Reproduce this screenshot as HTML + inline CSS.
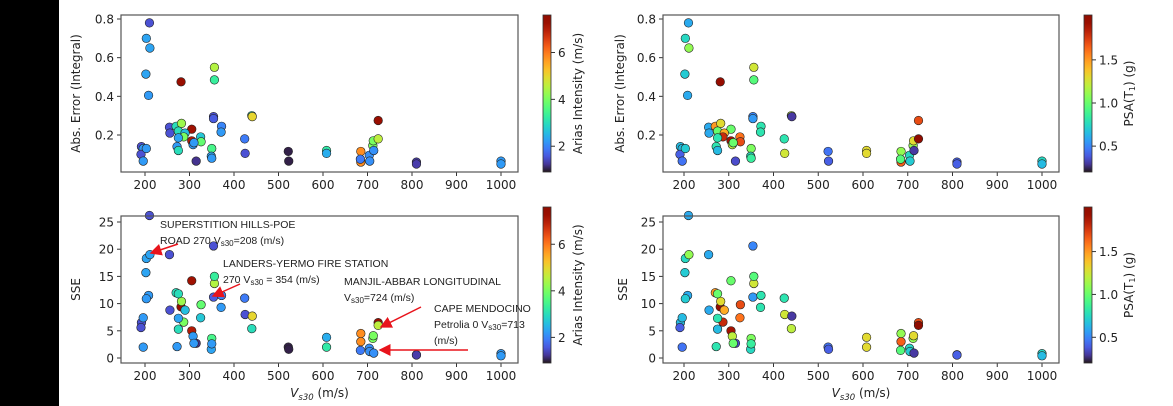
<!DOCTYPE html>
<html><head><meta charset="utf-8"><style>
html,body{margin:0;padding:0;background:#fff;}
svg{display:block;font-family:"DejaVu Sans","Liberation Sans",sans-serif;}
</style></head><body>
<svg id="chart" width="1173" height="406" viewBox="0 0 1173 406" xmlns="http://www.w3.org/2000/svg">
<rect x="0" y="0" width="1173" height="406" fill="#fff"/>
<rect x="0" y="0" width="59" height="406" fill="#000"/>
<defs>
<marker id="arr" markerWidth="8" markerHeight="8" refX="7" refY="4" orient="auto"><path d="M0,0 L8,4 L0,8 z" fill="#e8141c"/></marker>
</defs>
</svg>
<script>
const vs30 = [210,203,211,202,208,192,196,191,196,203,281,356,356,255,256,270,282,275,305,305,290,325,326,287,272,275,275,308,315,310,354,354,372,371,350,349,350,424,425,440,441,522,523,608,608,685,685,684,704,705,712,714,713,724,724,810,810,1000,1000];
const absErr = [0.78,0.70,0.65,0.515,0.405,0.14,0.13,0.10,0.065,0.13,0.475,0.55,0.485,0.24,0.21,0.245,0.26,0.22,0.23,0.17,0.21,0.19,0.165,0.19,0.14,0.12,0.185,0.15,0.065,0.16,0.295,0.285,0.245,0.215,0.13,0.09,0.08,0.18,0.105,0.30,0.295,0.115,0.065,0.12,0.105,0.115,0.06,0.075,0.095,0.065,0.145,0.12,0.17,0.275,0.18,0.06,0.05,0.065,0.05];
const sse = [26.2,18.3,19.0,15.7,11.5,6.5,7.4,5.6,2.0,10.9,9.4,13.7,15.0,19.0,8.8,12.0,10.4,11.8,14.2,5.0,8.8,7.4,9.8,6.6,2.1,5.3,7.3,4.0,2.7,2.7,20.6,11.2,11.5,9.3,3.6,1.6,2.6,11.0,8.0,5.4,7.7,2.0,1.6,2.0,3.8,4.5,3.0,1.4,1.8,1.2,3.6,0.9,4.1,6.5,6.0,0.6,0.55,0.8,0.4];
const arias = [1.5,2.3,2.3,2.3,2.2,1.5,2.2,1.5,2.2,2.2,7.3,4.5,3.3,1.5,1.5,3.0,4.3,3.0,7.2,7.0,2.6,2.7,3.8,4.0,2.2,3.0,2.3,2.2,1.2,2.2,1.5,1.6,2.0,2.2,3.5,2.3,2.2,1.9,1.5,3.0,5.0,1.0,1.0,3.2,2.4,5.8,5.8,1.9,2.1,2.1,4.0,2.1,4.0,7.3,4.6,1.3,1.3,2.2,2.2];
const psa = [0.6,0.75,1.1,0.7,0.6,0.65,0.65,0.4,0.45,0.7,1.95,1.25,0.95,0.6,0.6,1.5,1.3,1.0,1.0,1.9,1.45,1.6,1.7,1.8,0.8,0.65,0.8,1.2,0.35,1.0,0.5,0.55,0.8,0.8,1.05,0.75,0.85,0.8,1.25,1.2,0.3,0.45,0.4,1.3,1.3,1.1,1.65,0.95,0.75,0.7,1.1,0.3,1.3,1.7,2.0,0.4,0.4,0.75,0.65];
const xTicks = [200,300,400,500,600,700,800,900,1000];
const errTicks = [0.2,0.4,0.6,0.8];
const sseTicks = [0,5,10,15,20,25];
const ariasTicks = [2,4,6];
const psaTicks = [0.5,1.0,1.5];

const NS = "http://www.w3.org/2000/svg";
const svg = document.getElementById('chart');
function mk(tag, attrs, parent){const e=document.createElementNS(NS,tag);for(const k in attrs)e.setAttribute(k,attrs[k]);(parent||svg).appendChild(e);return e;}
function turbo(t){t=Math.max(0,Math.min(1,t));
 const r=0.13572138+t*(4.61539260+t*(-42.66032258+t*(132.13108234+t*(-152.94239396+t*59.28637943))));
 const g=0.09140261+t*(2.19418839+t*(4.84296658+t*(-14.18503333+t*(4.27729857+t*2.82956604))));
 const b=0.10667330+t*(12.64194608+t*(-60.58204836+t*(110.36276771+t*(-89.90310912+t*27.34824973))));
 const c=v=>Math.round(Math.max(0,Math.min(1,v))*255);return `rgb(${c(r)},${c(g)},${c(b)})`;}

function panel(p){
 const g=mk('g',{});
 
 
 const xs=v=>p.x0+(v-200)*(p.x1000-p.x0)/800;
 const ys=v=>p.yA+(v-p.vA)*(p.yB-p.yA)/(p.vB-p.vA);
 xTicks.forEach(t=>{const x=xs(t);
  mk('line',{x1:x,x2:x,y1:p.bottom,y2:p.bottom+4,stroke:'#333','stroke-width':1},g);
  const tx=mk('text',{x:x,y:p.bottom+17,'text-anchor':'middle','font-size':12,fill:'#222'},g);tx.textContent=t;
  
  });
 p.yTicks.forEach(t=>{const y=ys(t);
  mk('line',{x1:p.left-4,x2:p.left,y1:y,y2:y,stroke:'#333','stroke-width':1},g);
  const tx=mk('text',{x:p.left-7,y:y+4.5,'text-anchor':'end','font-size':12,fill:'#222'},g);tx.textContent=p.fmt(t);
  
  });
 const ys2=p.yData;
 for(let i=0;i<vs30.length;i++){
  const c=mk('circle',{cx:xs(vs30[i]),cy:ys(ys2[i]),r:4.3,fill:turbo((p.cData[i]-p.cmin)/(p.cmax-p.cmin)),stroke:'#222','stroke-width':0.6},g);
  
  
 }
 const fr=mk('rect',{x:p.left,y:p.top,width:p.right-p.left,height:p.bottom-p.top,fill:'none',stroke:'#555','stroke-width':1.2},g);
 
 
 const yl=mk('text',{x:0,y:0,'text-anchor':'middle','font-size':12,fill:'#222',transform:`translate(${p.ylx},${(p.top+p.bottom)/2}) rotate(-90)`},g);
 yl.textContent=p.ylabel;
 
 
 if(p.xlabel){const xl=mk('text',{x:(p.left+p.right)/2,y:p.bottom+34,'text-anchor':'middle','font-size':12,fill:'#222'},g);
  xl.innerHTML='<tspan font-style="italic">V</tspan><tspan font-size="8.5" dy="3" font-style="italic">s30</tspan><tspan dy="-3"> (m/s)</tspan>';
  
  }
 return g;
}
function colorbar(cb){
 const id='grad'+cb.id;
 const lg=mk('linearGradient',{id:id,x1:0,y1:1,x2:0,y2:0},svg.querySelector('defs'));
 for(let i=0;i<=20;i++)mk('stop',{offset:i/20,'stop-color':turbo(i/20)},lg);
 const r=mk('rect',{x:cb.x,y:cb.top,width:8,height:cb.bottom-cb.top,fill:`url(#${id})`,stroke:'#333','stroke-width':0.8});
 
 
 cb.ticks.forEach(t=>{const y=cb.bottom-(t-cb.min)/(cb.max-cb.min)*(cb.bottom-cb.top);
  mk('line',{x1:cb.x+8,x2:cb.x+12,y1:y,y2:y,stroke:'#333'});
  const tx=mk('text',{x:cb.x+15,y:y+4.5,'font-size':12,fill:'#222'});tx.textContent=cb.fmt(t);
  
  });
 const l=mk('text',{x:0,y:0,'text-anchor':'middle','font-size':12,fill:'#222',transform:`translate(${cb.lx},${(cb.top+cb.bottom)/2}) rotate(-90)`});
 l.innerHTML=cb.label;
 
 
}
const f1=v=>v.toFixed(1), f0=v=>String(v);
const A={cmin:0.9,cmax:7.6}, P={cmin:0.2,cmax:2.02};
panel({name:'panel-abs-error-arias',left:121,right:518,top:15,bottom:172,x0:145,x1000:501,vA:0.8,yA:19,vB:0.2,yB:135,yTicks:errTicks,fmt:f1,yData:absErr,cData:arias,cmin:A.cmin,cmax:A.cmax,ylabel:'Abs. Error (Integral)',ylx:80});
panel({name:'panel-sse-arias',left:121,right:518,top:216,bottom:363,x0:145,x1000:501,vA:25,yA:222,vB:0,yB:358,yTicks:sseTicks,fmt:f0,yData:sse,cData:arias,cmin:A.cmin,cmax:A.cmax,ylabel:'SSE',ylx:80,xlabel:true});
panel({name:'panel-abs-error-psa',left:663,right:1059,top:15,bottom:172,x0:684,x1000:1042,vA:0.8,yA:19,vB:0.2,yB:135,yTicks:errTicks,fmt:f1,yData:absErr,cData:psa,cmin:P.cmin,cmax:P.cmax,ylabel:'Abs. Error (Integral)',ylx:624});
panel({name:'panel-sse-psa',left:663,right:1059,top:216,bottom:363,x0:684,x1000:1042,vA:25,yA:222,vB:0,yB:358,yTicks:sseTicks,fmt:f0,yData:sse,cData:psa,cmin:P.cmin,cmax:P.cmax,ylabel:'SSE',ylx:627,xlabel:true});

const ann=[
 {x:160,y:228,lines:['SUPERSTITION HILLS-POE','ROAD 270 V<tspan font-size="8" dy="2">s30</tspan><tspan dy="-2">=208 (m/s)</tspan>']},
 {x:223,y:267,lines:['LANDERS-YERMO FIRE STATION','270 V<tspan font-size="8" dy="2">s30</tspan><tspan dy="-2"> = 354 (m/s)</tspan>']},
 {x:344,y:285,lines:['MANJIL-ABBAR LONGITUDINAL','V<tspan font-size="8" dy="2">s30</tspan><tspan dy="-2">=724 (m/s)</tspan>']},
 {x:434,y:312,lines:['CAPE MENDOCINO','Petrolia 0 V<tspan font-size="8" dy="2">s30</tspan><tspan dy="-2">=713</tspan>','(m/s)']}
];
ann.forEach(a=>{a.lines.forEach((ln,i)=>{const t=mk('text',{x:a.x,y:a.y+i*16,'font-size':10.5,fill:'#222','font-family':'"Liberation Sans",sans-serif'});t.innerHTML=ln;
 
 });});
[[178,244,151,253],[240,284,213,296],[421,307,381,327],[468,350,380,350]].forEach(a=>{
 const l=mk('line',{x1:a[0],y1:a[1],x2:a[2],y2:a[3],stroke:'#e8141c','stroke-width':1.5,'marker-end':'url(#arr)'});
 
 });
colorbar({id:1,x:543,top:15,bottom:172,min:A.cmin,max:A.cmax,ticks:ariasTicks,fmt:f0,lx:582,label:'Arias Intensity (m/s)'});
colorbar({id:2,x:543,top:207,bottom:363,min:A.cmin,max:A.cmax,ticks:ariasTicks,fmt:f0,lx:582,label:'Arias Intensity (m/s)'});
colorbar({id:3,x:1084,top:15,bottom:172,min:P.cmin,max:P.cmax,ticks:psaTicks,fmt:f1,lx:1133,label:'PSA(T<tspan font-size="8" dy="2">1</tspan><tspan dy="-2">) (g)</tspan>'});
colorbar({id:4,x:1084,top:207,bottom:363,min:P.cmin,max:P.cmax,ticks:psaTicks,fmt:f1,lx:1133,label:'PSA(T<tspan font-size="8" dy="2">1</tspan><tspan dy="-2">) (g)</tspan>'});
</script>
</body></html>
